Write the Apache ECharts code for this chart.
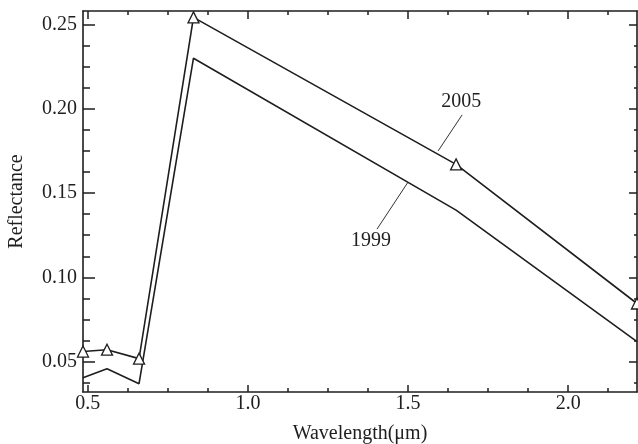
<!DOCTYPE html>
<html>
<head>
<meta charset="utf-8">
<script src="https://cdn.jsdelivr.net/npm/echarts@6/dist/echarts.min.js"></script>
<style>
html,body{margin:0;padding:0;background:#fff;}
#c{width:638px;height:444px;}
</style>
</head>
<body>
<div id="c"></div>
<script>
// ---- data ----
const wavelengths = [0.485, 0.56, 0.66, 0.83, 1.65, 2.215];
const refl2005 = [0.0560, 0.0571, 0.0518, 0.2542, 0.1670, 0.0845];
const refl1999 = [0.0405, 0.0458, 0.0369, 0.2300, 0.1399, 0.0619];

const xMajorTicks = [0.5, 1.0, 1.5, 2.0];
const xMinorTicks = [0.625, 0.75, 0.875, 1.125, 1.25, 1.375, 1.625, 1.75, 1.875, 2.125];
const yMajorTicks = [0.05, 0.10, 0.15, 0.20, 0.25];
const yMinorTicks = [0.0375, 0.0625, 0.075, 0.0875, 0.1125, 0.125, 0.1375, 0.1625, 0.175, 0.1875, 0.2125, 0.225, 0.2375];

const xRange = [0.485, 2.215];
const yRange = [0.032, 0.258];

// annotation anchors (data coordinates)
const note2005Pos = [1.666, 0.2042];
const note2005Leader = [[1.669, 0.1964], [1.594, 0.1750]];
const note1999Pos = [1.384, 0.1220];
const note1999Leader = [[1.403, 0.1286], [1.500, 0.1565]];

// ---- chart ----
const ink = '#1e1e1e';
const font = 'Liberation Serif';
const chart = echarts.init(document.getElementById('c'), null, {renderer: 'canvas'});

function xAxisDef(pos, ticks, len, withLine, withLabel) {
  return {
    type: 'value', position: pos, min: xRange[0], max: xRange[1],
    axisLine: {show: withLine, onZero: false, lineStyle: {color: ink, width: 1.6}},
    axisTick: {show: true, inside: true, length: len, customValues: ticks, lineStyle: {color: ink, width: 1.5}},
    axisLabel: withLabel ? {show: true, customValues: ticks, formatter: v => v.toFixed(1),
      fontFamily: font, fontSize: 20, color: ink, margin: 2} : {show: false},
    splitLine: {show: false}
  };
}
function yAxisDef(pos, ticks, len, withLine, withLabel) {
  return {
    type: 'value', position: pos, min: yRange[0], max: yRange[1],
    axisLine: {show: withLine, onZero: false, lineStyle: {color: ink, width: 1.6}},
    axisTick: {show: true, inside: true, length: len, customValues: ticks, lineStyle: {color: ink, width: 1.5}},
    axisLabel: withLabel ? {show: true, customValues: ticks, formatter: v => v.toFixed(2),
      fontFamily: font, fontSize: 20, color: ink, margin: 6} : {show: false},
    splitLine: {show: false}
  };
}

const xBottom = xAxisDef('bottom', xMajorTicks, 7, true, true);
xBottom.name = 'Wavelength(\u03bcm)';
xBottom.nameLocation = 'middle';
xBottom.nameGap = 32;
xBottom.nameTextStyle = {fontFamily: font, fontSize: 20, color: ink};

const yLeft = yAxisDef('left', yMajorTicks, 12, true, true);
yLeft.name = 'Reflectance';
yLeft.nameLocation = 'middle';
yLeft.nameGap = 56;
yLeft.nameTextStyle = {fontFamily: font, fontSize: 20, color: ink};

const lineStyle = {color: ink, width: 1.6};

chart.setOption({
  animation: false,
  backgroundColor: '#ffffff',
  grid: {left: 83, top: 11, width: 554, height: 381, containLabel: false, outerBoundsMode: 'none'},
  xAxis: [
    xBottom,
    xAxisDef('bottom', xMinorTicks, 4, false, false),
    xAxisDef('top', xMajorTicks, 8, true, false),
    xAxisDef('top', xMinorTicks, 4, false, false)
  ],
  yAxis: [
    yLeft,
    yAxisDef('left', yMinorTicks, 7, false, false),
    yAxisDef('right', yMajorTicks, 8, true, false),
    yAxisDef('right', yMinorTicks, 3, false, false)
  ],
  series: [
    {
      name: '2005', type: 'line', xAxisIndex: 0, yAxisIndex: 0,
      data: wavelengths.map((w, i) => [w, refl2005[i]]),
      symbol: 'triangle', symbolSize: 11, showSymbol: true,
      itemStyle: {color: '#ffffff', borderColor: ink, borderWidth: 1.3},
      lineStyle: lineStyle,
      z: 3,
      markLine: {
        silent: true, symbol: ['none', 'none'], animation: false,
        lineStyle: {color: '#333', width: 1, type: 'solid'},
        label: {show: false},
        data: [[{coord: note2005Leader[0]}, {coord: note2005Leader[1]}]]
      },
      markPoint: {
        silent: true, symbol: 'circle', symbolSize: 1,
        itemStyle: {color: 'rgba(0,0,0,0)'},
        label: {show: true, position: 'inside', formatter: '2005', fontFamily: font, fontSize: 20, color: ink},
        data: [{coord: note2005Pos}]
      }
    },
    {
      name: '1999', type: 'line', xAxisIndex: 0, yAxisIndex: 0,
      data: wavelengths.map((w, i) => [w, refl1999[i]]),
      symbol: 'none', showSymbol: false,
      lineStyle: lineStyle,
      z: 2,
      markLine: {
        silent: true, symbol: ['none', 'none'], animation: false,
        lineStyle: {color: '#333', width: 1, type: 'solid'},
        label: {show: false},
        data: [[{coord: note1999Leader[0]}, {coord: note1999Leader[1]}]]
      },
      markPoint: {
        silent: true, symbol: 'circle', symbolSize: 1,
        itemStyle: {color: 'rgba(0,0,0,0)'},
        label: {show: true, position: 'inside', formatter: '1999', fontFamily: font, fontSize: 20, color: ink},
        data: [{coord: note1999Pos}]
      }
    }
  ]
});
</script>
</body>
</html>
